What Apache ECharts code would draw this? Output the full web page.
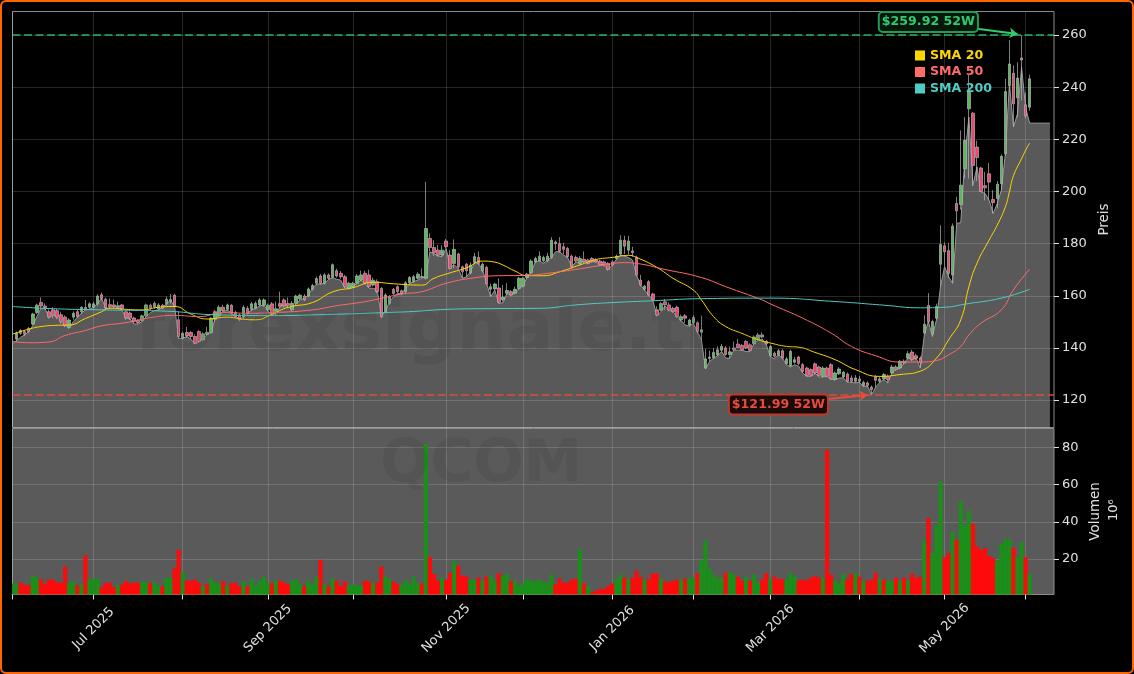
<!DOCTYPE html>
<html>
<head>
<meta charset="utf-8">
<title>QCOM</title>
<script src="https://cdn.jsdelivr.net/npm/echarts@6/dist/echarts.min.js"></script>
<style>
html, body { margin: 0; padding: 0; background: #000; }
#chart { width: 1134px; height: 674px; }
</style>
</head>
<body>
<div id="chart"></div>
<script>
// tagesdaten
var candleOpen = [
null,143.4,146.7,146.3,147.5,149.2,153.6,157.4,156.1,153.9,
154.6,154.3,152.7,151.8,147.9,151.8,153.9,153.9,155.5,155.6,
155.6,156.9,160.4,158.7,156.6,156.5,155.5,156.5,153.9,153.4,
151.5,150.7,150.5,152.3,156.4,155.6,155,156.4,156.9,157.9,
160.2,150.8,143.7,145.9,145.9,144.4,146.3,143.1,145.2,145.9,
151,152.3,155.6,154.8,156.4,153.6,152.7,152,155.2,154.8,
155.2,156.5,156.4,154.6,156.9,153.5,157,158.4,157,154.6,
157.1,158.9,159.9,159.9,162.5,164.8,167.6,164.8,168,167.1,
169.6,168.6,167.3,162.9,163.5,164.8,166,168.6,168,164.1,
165.4,162.8,153.9,157.1,162.4,163.5,161.9,161.6,165,165.4,
166.7,167.4,166.7,182,178.5,177.5,175.6,181,175.6,172.4,
176,171.1,172.1,168.8,172.8,174.7,169.6,170.9,162.5,162.6,
163,158.5,161,161.6,161,162.8,163.7,167,168.8,173,
173.4,173.4,173.4,174.7,180.6,180,178.8,178.1,175.2,174.7,
172.4,174,173.7,174.3,173.7,173.3,173,172.4,173,174.3,
176,181.3,177.5,177.2,174.7,166,162.5,165.4,160.7,154.6,
154.5,157.7,156.5,155.2,155.6,150.7,152.3,148.8,149.7,149.7,
146,132.3,136,136.3,137.3,139.1,140,137.5,140,141.5,
141,142.5,141.2,141.6,143.2,145,142.5,137,138,137.4,
138.9,134,133.2,134.5,136.5,133.6,132.3,131.7,133.9,132.7,
129.1,132.3,133.6,127.9,130.1,128.9,130,128.5,127.2,128.1,
125.6,126.6,125,128.9,127.2,128.1,129.1,130.4,132.7,132.3,
134.9,136.1,138.4,137,136.1,145.7,156.3,145.4,151.4,172.1,
179.2,177.3,168,195.4,195,208.7,231.7,230,217,209,
202.2,206.8,196.9,197.3,203,214.5,240.6,245.3,235.9,251.2,
233.2,232.3];
var candleClose = [
null,145.7,145.6,145.3,146.3,153,156.4,156.1,155.5,151.8,
152.7,151.8,150.1,148.5,150.7,153.3,152,155.6,155,156.9,
156.9,159.9,159,155.3,155.8,155.7,156.2,155,151.6,151.4,
150.2,149.8,152.3,156.5,155.1,157.1,156.5,155.2,158.7,158.6,
156.1,144.4,145.6,144.6,144.4,141.8,142.5,145.4,146,151.4,
153.9,155.6,154.3,156.5,153.3,152,150.8,155.6,153.3,156.9,
157.1,158.4,158.4,156.4,153.3,155,156,156.1,156.3,157.1,
159.9,160.2,158.4,162.6,163.9,166.6,164.8,168,166.7,171.9,
167.6,167.3,163.5,164.8,164.8,167.6,168,164.8,163.5,166,
161.6,152,160.3,159.6,160.9,161.6,160.7,165,167,167.3,
168.3,167,185.8,178.5,176.5,175.5,177.5,178.8,170.5,177.8,
171.1,169.2,169.6,171.8,175,172.4,172.1,164.5,163.5,164.5,
157.5,159.5,162,160.3,162.5,166.7,166.7,168.3,173.3,174.3,
175.2,174.7,175.2,181.3,180,177.1,177.8,175,171.1,173.4,
174.3,173,172.4,173,173,171.8,171.8,170.1,171.8,175.2,
181.3,179,181,176.5,167.9,164.1,163.7,160.3,158.6,152.6,
157,156.5,154.5,153.9,152,152,151.4,150.7,151.7,146.3,
147,135.8,136.5,138.3,139.3,140.6,137.5,138.5,139.3,140,
139.3,140,139.1,144.2,145,144.2,141.6,140.6,136.8,138.9,
136.1,135.8,138.7,135.5,134,131,129.4,129.4,130.4,129.4,
132.3,129.1,128.2,130.4,131.9,130.7,127.2,127.2,128.5,127.2,
126.8,125.6,124,127.6,128.1,129.8,127.9,132.7,131.7,134.9,
134.2,137.8,135.5,136.1,134.2,149.1,150.1,150.1,155.9,179.7,
176.9,168.6,186.7,192.6,202.4,219.6,238,210,213,200,
201.4,203.6,195.7,202.8,213.5,238.3,248.9,233.6,243.5,250.4,
228.9,243.2];
var candleLow = [
null,142.5,145,144.5,145.6,148.8,153,155.2,154.8,151.2,
151.4,151,149.2,148,147.2,150.8,151.5,153,154.5,155,
155.2,156.2,158.4,154.8,155.2,155.2,155.2,154.6,150.8,150.8,
149.4,149.2,150,151.8,154.5,155,154.6,154.8,156.2,157,
155.7,143.7,143.2,143.9,143.5,141.4,142,142.8,144.8,145.6,
150,151.8,153.8,154.2,152.8,151.5,150.3,151.2,152.8,154.2,
154.8,156,155.8,154,152.7,152.7,155.2,155.5,155.6,154,
156.5,158.3,158,159.4,162,164.3,164.3,164.3,166.2,166.6,
167,166.5,163,162.4,163,164.3,165.6,164.2,163,163.6,
161,151.5,153.2,156.5,160.3,161,160.2,161,164.5,165,
166.2,166.7,166.2,177,175.2,175,175,178.2,170,170.5,
170.5,166.8,167.2,168.2,172.2,171.8,169,164,159.6,162,
157,157.8,160.3,159.8,160.5,162.3,163.2,166.4,168.3,172.5,
173,172.8,172.9,174.2,177.5,176.5,176,174.5,170.5,172.8,
171.9,172.5,172,172.6,172.6,171.4,171.3,169.6,171.3,173.8,
175.5,176,175.8,175,167.4,163.6,162,159.8,158,152,
154,154.5,154,153.4,151.6,150.2,149.6,148.2,149.2,145.6,
143.1,131.9,134.8,135.8,136.8,138.5,137,136.2,139,139.9,
139,139.5,138.8,141,142.8,143.8,141.2,136.5,136.3,136.8,
135.7,133.5,132.7,134,133.4,130.4,129,129,129.8,129,
128.7,128.8,127.8,127.5,129.6,128.3,126.8,126.8,126.6,126.6,
125,125,122,125,126.6,127.6,126.6,130,131.2,131.8,
133.6,135.6,135,135.5,132.5,145,149.5,144.4,150.9,163.5,
171.2,166.8,164.8,187.8,193,205,205,202,204,199.8,
196.6,196.6,191.5,193.5,200.5,213.8,238,224.7,228.5,234.9,
228,231];
var candleHigh = [
null,146.3,147.2,146.8,148,153.5,157,159.4,157.1,154.8,
155.6,155,153.9,152.5,151.4,154,154.6,156,158.4,157.5,
157.8,160.6,161.2,159.3,159,158.6,157.8,156.9,154.3,154,
152,151,152.8,157,157,157.8,157.2,156.9,159.7,160.7,
160.8,154,146.2,148,146.5,145.2,146.8,146,148.2,151.8,
154.6,156.4,156.6,157,156.8,154.3,153.3,156.3,156,157.6,
157.9,159.2,159,157,157.6,157.8,161.6,159,159.4,158,
160.4,160.8,160.6,163.2,164.6,167.4,168.4,168.7,168.6,172.4,
170.4,169.5,168,165.4,165.4,168.4,169.7,169.6,170,167,
166.3,163.4,161,160.3,163,164,162.4,165.6,167.6,168,
169,170.5,203.6,184,181.3,179.5,179.4,181.8,177.5,181.6,
176.5,171.6,172.6,172.8,176.4,177,172.8,171.5,164.7,165,
166.7,164.1,164.8,162.2,163.5,167.2,167.3,168.8,174,175,
177,175.4,176.5,182.5,181.2,182.5,180.3,178.7,175.8,175.4,
175.2,177,174.2,174.8,174.4,173.8,173.5,172.9,173.6,175.8,
183.2,183,183,178.8,175.4,168,164.2,166,161.2,156,
157.6,158.8,157.5,155.8,156.2,152.8,153,151.2,152.6,150.2,
152.4,139.6,139,140,140.6,141.5,140.8,140.6,142.5,143.4,
141.5,143,141.8,144.8,145.8,146,143,141.2,138.6,139.6,
139.5,136.5,139.3,136.6,137,134.2,132.8,132.2,134.4,133.2,
133,132.8,134.2,131,132.6,131.2,130.6,129.5,129.6,129.2,
127.5,127.2,125.6,129.6,129,130.4,129.8,133.5,133.4,135.4,
135.6,138.8,139.3,137.8,136.8,152.5,161,150.8,157,187,
180.5,180.3,187.7,198,223.4,228.5,245,230.5,219.5,209.5,
207.5,210.9,200.5,204,214.2,243.2,258,248.3,249.5,259.92,
238,244.8];

// silhouette der grauen flaeche, laeuft mit dem letzten wert bis index 256 weiter
var areaLine = [
141.6,142.8,144.1,145,146.3,148.5,152,155.2,155.2,151.8,
152.7,152,150.1,148.8,147.6,150.1,151.8,153.3,154.6,154.8,
155.6,157.1,159,155.2,155.2,155.2,155.2,154.6,151.4,151.1,
149.2,149.2,150.1,152,153.6,154.3,154.6,155.6,156.9,158.4,
155.9,143.7,143.7,144.4,143.4,141.6,142.5,143.7,145,145.9,
151.4,152.7,153.9,154.6,153.3,152.3,151,152,153.3,154.6,
155.2,156.1,156.5,154.3,152.7,153.3,155.6,156.9,155.6,155.2,
157.1,158.4,159,160.3,162.9,164.5,164.5,164.8,166.3,167,
166.3,166,162.9,163.5,163.5,164.8,166,164.8,162.9,162.9,
162.2,152.3,153.9,157.7,159.6,160.9,160.9,162.8,164.7,165.4,
166,166.7,167.3,176.9,176.2,175.2,175,178.1,171.1,171.8,
170.5,166.7,167.3,169.2,172.7,172.4,169.9,164.7,159.6,162.2,
157.1,157.3,160.9,160.3,161.2,162.8,164.1,167,169.2,173,
173.4,172.4,173.7,174.7,176.9,176.9,175.6,174.7,171.1,173,
172.7,173.4,172.4,173.4,173,172,171.8,170.1,171.8,173.9,
175.6,175.2,174.7,173.7,167.9,164.1,162.2,160.3,158.4,152.3,
153.9,156.1,154.5,153.9,152,150.5,148.8,148.4,149.4,146.3,
143.1,132,134.8,136.1,137,138.6,136.1,136.1,139.2,139.2,
139.2,138.6,138.6,141.8,143.1,143.4,141.2,136.8,135.8,137.4,
136.1,133.6,132.7,133.6,133,130.4,129.1,129.1,130.4,128.9,
128.9,129.1,127.9,127.9,128.5,128.5,127,126.8,126.6,126.8,
125.3,125.3,122.1,125,126.8,127.9,126.6,130.4,131.9,132.3,
134.2,136.1,135.8,136.1,132.3,145,150.2,144.4,150.8,163.5,
171.2,167.3,164.8,187.8,188,213,228.5,202.4,209.4,199.8,
199.2,196.6,191.6,195.4,200.5,214.5,241.3,224.7,229.8,247.6,
232,226.2,226.2,226.2,226.2,226.2,226.2];

// volumen in millionen, volUp: 1 gruen, 0 rot
var volumes = [
7,7,7.3,6,6.2,11,10,9.3,6.5,9,
9,7.3,7.3,16,7.5,8,6,6.5,22,9,
9.5,9.5,5,7.3,7.3,5,6.2,6.2,8.2,7,
7.3,7.3,7.7,7.7,7.3,7.7,6,5.5,10,10,
15,25,13,8.4,8.4,9,7.3,5.5,6.6,9.5,
7.3,7,8,5.6,7,7.3,5.5,7.7,5.5,9.5,
5.7,8.4,10.5,7.3,7,8.4,8.4,7.3,6.5,8.4,
9,6.5,5.7,8.4,6.6,10.5,19.6,6.6,5.7,9.5,
8.4,5.5,8,6,6,6,5.7,8.4,8,7.3,
7.3,16,10.5,9.3,8,6.6,6.2,8.4,6.6,10.5,
7,7,81.6,21,12,8.4,10,9,12.7,19,
16.4,11,10.7,9,9,10,8.4,10.5,11.4,8.4,
12.5,11,12.3,8,8.4,5.7,7,9.3,8.4,8,
9,7.5,7.5,11.6,6.6,9.5,7.3,7.3,9,9.5,
25.4,7,5.5,1.9,3,4,4,5.6,7,9.3,
11.6,10,9.3,10,13.7,10.5,9,9.3,12.3,12.3,
9.3,8,7.5,8.4,9,9,9.5,10,10,12.3,
19.5,30,15,11.6,10,10,12.7,13,11.6,10.5,
8.4,10.5,8.4,11.6,7.5,9,12.5,9.3,10.5,9.3,
9.3,9.3,12.5,10.7,8.4,9,8.4,10,11,10,
10,78.6,11.6,8.4,7,12,9.3,12,12.5,10.5,
8.4,8.4,9,12.5,9.3,9,8.4,8,10,8.4,
10,8.4,12,10,10.5,30,42,23.4,38,61.4,
21,23.4,34.6,30.4,51,38,46,39,26.8,24.8,
26,21.6,20.4,19,28,30.7,30.7,26,21,29,
21,12];
var volUp = [
1,1,0,0,0,1,1,0,0,0,
0,0,0,0,1,1,0,1,0,1,
1,1,0,0,0,0,1,0,0,0,
0,0,1,1,0,1,1,0,1,1,
0,0,1,0,0,0,0,1,0,1,
1,1,0,1,0,0,0,1,0,1,
1,1,1,1,0,1,0,0,0,1,
1,1,0,1,1,1,0,1,0,1,
0,0,0,1,1,1,1,0,0,1,
0,0,1,1,0,0,1,1,1,1,
1,0,1,0,0,0,1,0,0,1,
0,0,0,1,1,0,1,0,1,1,
0,1,1,0,1,1,1,1,1,1,
1,1,1,1,0,0,0,0,0,0,
1,0,1,0,0,0,0,0,0,1,
1,0,1,0,0,0,1,0,0,0,
1,0,0,0,0,1,0,1,1,0,
1,1,1,1,1,1,0,1,1,0,
0,1,0,1,1,0,0,1,0,0,
0,1,1,1,0,0,0,0,0,0,
1,0,0,1,1,1,0,0,1,0,
1,0,0,0,1,0,1,1,0,1,
0,1,0,0,0,1,0,1,1,1,
0,0,1,0,1,1,1,0,0,0,
0,0,0,1,1,1,1,0,1,1,
0,1];

var sma20Points = [[0,145.3],[4,147.2],[7,148.2],[11,148.7],[14,148.8],[18,151.3],[22,153.9],[24,155.3],[28,154.8],[32,154.6],[36,155.6],[40,155.9],[44,153],[48,151.1],[53,151.8],[57,151],[60,150.8],[64,152.9],[68,155.6],[74,157.4],[79,161.5],[84,163.1],[89,165.2],[94,164.6],[101,164.1],[104,166.7],[108,168.8],[112,170.7],[116,173.3],[119,172.9],[121,171.8],[124,169.5],[127,167.7],[131,167.7],[135,169.2],[140,171.8],[144,173.9],[148,174.7],[152,175.5],[154,174.7],[159,170.9],[163,166.7],[168,162.2],[170,158.4],[173,152],[176,148.2],[180,145.6],[184,143.1],[187,141.9],[191,140.6],[194,140.3],[198,138.3],[203,135.5],[208,131.7],[214,129.1],[219,129.8],[224,131.1],[228,136.1],[231,143.1],[234,150.8],[236,163.5],[238,172.5],[241,181.4],[243,187.1],[245,194.1],[246,199.9],[247,206],[249,212.6],[250,215.8],[251,218.6]];
var sma50Points = [[0,142.5],[4,142],[9,142.3],[13,144.8],[18,146.7],[22,148.5],[28,149.7],[34,151.6],[40,152.5],[46,152],[52,153.6],[58,153.3],[65,153.6],[74,154.6],[80,156.2],[86,157.5],[91,159],[96,160.7],[101,161.6],[107,164.8],[114,166.9],[120,167.7],[126,167.8],[132,168.6],[139,170.1],[146,171.8],[151,172.7],[154,172.4],[161,170.1],[170,167],[176,163.5],[185,158.4],[187,156.9],[195,151.4],[202,145.7],[207,140.6],[213,137],[219,134.6],[224,134.6],[228,135.2],[231,137.4],[234,140.6],[236,145],[239,149.5],[244,154.6],[247,162.3],[251,170.2]];
var sma200Points = [[0,155.9],[9,155.1],[22,154.6],[38,154.1],[50,152.7],[63,152.4],[79,152.9],[91,153.5],[99,154],[107,154.8],[119,155.1],[130,155.2],[139,156.5],[148,157.4],[158,158.1],[170,158.9],[187,159.1],[203,157.8],[215,156.4],[224,155.4],[230,155.6],[235,156.8],[244,159.1],[251,162.5]];

var priceTicks = [120, 140, 160, 180, 200, 220, 240, 260];
var volumeTicks = [20, 40, 60, 80];
var monthTickIdx = [0, 20, 42, 63, 84, 107, 126, 148, 168, 187, 209, 230, 250];
var monthLabels = {20: 'Jul 2025', 63: 'Sep 2025', 107: 'Nov 2025', 148: 'Jan 2026', 187: 'Mar 2026', 230: 'May 2026'};
var high52 = 259.92;
var low52 = 121.99;

var dayNames = [];
for (var d = 0; d < 258; d++) { dayNames.push('t' + d); }

var candleData = candleOpen.map(function (o, i) {
    if (o === null) { return '-'; }
    return [o, candleClose[i], candleLow[i], candleHigh[i]];
});
var volData = volumes.map(function (v, i) {
    return { value: v, itemStyle: { color: volUp[i] ? '#1a8f1a' : '#ff0a0a' } };
});

var font = '"DejaVu Sans", sans-serif';
var gridColor = 'rgba(255,255,255,0.15)';
var isMonthTick = function (idx) { return monthTickIdx.indexOf(idx) >= 0; };

var myChart = echarts.init(document.getElementById('chart'));

var option = {
    backgroundColor: '#000',
    animation: false,
    textStyle: { fontFamily: font },
    grid: [
        { left: 12.5, right: 80, top: 11.5, height: 416, show: true, borderColor: '#8c8c8c', borderWidth: 1, backgroundColor: 'transparent' },
        { left: 12.5, right: 80, top: 428.5, height: 166, show: true, borderColor: '#8c8c8c', borderWidth: 1, backgroundColor: '#5a5a5a' }
    ],
    legend: {
        left: 910,
        top: 44,
        orient: 'vertical',
        itemWidth: 10,
        itemHeight: 10,
        itemGap: 3.5,
        icon: 'rect',
        data: [
            { name: 'SMA 20', textStyle: { color: '#ffd700' } },
            { name: 'SMA 50', textStyle: { color: '#ff6b6b' } },
            { name: 'SMA 200', textStyle: { color: '#4ecdc4' } }
        ],
        textStyle: { fontFamily: font, fontSize: 12.6, fontWeight: 'bold' }
    },
    xAxis: [
        {
            type: 'category', gridIndex: 0, data: dayNames, boundaryGap: false,
            axisLine: { show: false }, axisTick: { show: false }, axisLabel: { show: false },
            splitLine: { show: true, interval: isMonthTick, lineStyle: { color: gridColor, width: 1 } }
        },
        {
            type: 'category', gridIndex: 1, data: dayNames, boundaryGap: false,
            axisLine: { show: false },
            axisTick: { show: true, interval: isMonthTick, length: 5, lineStyle: { color: '#e0e0e0' } },
            axisLabel: {
                show: true, rotate: 45, align: 'center', verticalAlign: 'middle', margin: 34,
                color: '#e0e0e0', fontSize: 13, fontFamily: font, hideOverlap: false,
                interval: function (idx) { return monthLabels[idx] !== undefined; },
                formatter: function (v, idx) { return monthLabels[idx] || ''; }
            },
            splitLine: { show: true, interval: isMonthTick, lineStyle: { color: gridColor, width: 1 } }
        }
    ],
    yAxis: [
        {
            type: 'value', gridIndex: 0, position: 'right', min: 109.5, max: 269, scale: true,
            name: 'Preis', nameLocation: 'middle', nameRotate: 90, nameGap: 43,
            nameTextStyle: { color: '#e0e0e0', fontSize: 13.4, fontFamily: font },
            axisLine: { show: false },
            axisTick: { show: true, customValues: priceTicks, length: 5, lineStyle: { color: '#e0e0e0' } },
            axisLabel: { show: true, customValues: priceTicks, color: '#e0e0e0', fontSize: 13, fontFamily: font, margin: 8 },
            splitLine: { show: true, customValues: priceTicks, lineStyle: { color: gridColor, width: 1 } }
        },
        {
            type: 'value', gridIndex: 1, position: 'right', min: 1, max: 90,
            name: 'Volumen', nameLocation: 'middle', nameRotate: 90, nameGap: 32,
            nameTextStyle: { color: '#e0e0e0', fontSize: 13.4, fontFamily: font },
            axisLine: { show: false },
            axisTick: { show: true, customValues: volumeTicks, length: 5, lineStyle: { color: '#e0e0e0' } },
            axisLabel: { show: true, customValues: volumeTicks, color: '#e0e0e0', fontSize: 13, fontFamily: font, margin: 8 },
            splitLine: { show: true, customValues: volumeTicks, lineStyle: { color: gridColor, width: 1 } }
        }
    ],
    series: [
        {
            name: 'Flaeche', type: 'line', xAxisIndex: 0, yAxisIndex: 0, data: areaLine, z: 1,
            symbol: 'none', silent: true,
            lineStyle: { color: '#9a9a9a', width: 1 },
            areaStyle: { color: '#ffffff', opacity: 0.35, origin: 'start' },
            markLine: {
                silent: true, symbol: ['none', 'none'], label: { show: false }, animation: false,
                data: [
                    { yAxis: high52, lineStyle: { color: '#2ecc71', type: [8, 3.5], width: 1.8, opacity: 0.65 } },
                    { yAxis: low52, lineStyle: { color: '#e74c3c', type: [8, 3.5], width: 1.8, opacity: 0.7 } },
                    [
                        { coord: [238, 262.4], symbol: 'none', lineStyle: { color: '#2ecc71', type: 'solid', width: 2 } },
                        { coord: [248, 260.4], symbol: 'arrow', symbolSize: 8 }
                    ],
                    [
                        { coord: [200, 120.2], symbol: 'none', lineStyle: { color: '#e74c3c', type: 'solid', width: 2 } },
                        { coord: [211, 122], symbol: 'arrow', symbolSize: 8 }
                    ]
                ]
            },
            markPoint: {
                silent: true, symbol: 'rect', symbolSize: 0, animation: false,
                data: [
                    {
                        coord: [225.5, 265],
                        label: {
                            show: true, position: 'inside', formatter: '$' + high52 + ' 52W',
                            color: '#2ecc71', fontFamily: font, fontSize: 12.6, fontWeight: 'bold',
                            backgroundColor: '#08170e', borderColor: '#1f9d55', borderWidth: 2, borderRadius: 3, padding: [3, 2, 2, 2]
                        }
                    },
                    {
                        coord: [188.5, 118.3],
                        label: {
                            show: true, position: 'inside', formatter: '$' + low52 + ' 52W',
                            color: '#e74c3c', fontFamily: font, fontSize: 12.6, fontWeight: 'bold',
                            backgroundColor: '#1a0a0a', borderColor: '#c0392b', borderWidth: 2, borderRadius: 3, padding: [3, 2, 2, 2]
                        }
                    }
                ]
            }
        },
        {
            name: 'Kerzen', type: 'candlestick', xAxisIndex: 0, yAxisIndex: 0, data: candleData, z: 3,
            barWidth: 3, silent: true,
            itemStyle: { color: '#5cb85c', color0: '#f0476f', borderColor: '#b4b4b4', borderColor0: '#b4b4b4', borderWidth: 0.7 }
        },
        { name: 'SMA 20', type: 'line', xAxisIndex: 0, yAxisIndex: 0, data: sma20Points, z: 4, symbol: 'none', smooth: 0.5, color: '#ffd700', lineStyle: { width: 1 } },
        { name: 'SMA 50', type: 'line', xAxisIndex: 0, yAxisIndex: 0, data: sma50Points, z: 4, symbol: 'none', smooth: 0.5, color: '#ff6b6b', lineStyle: { width: 1 } },
        { name: 'SMA 200', type: 'line', xAxisIndex: 0, yAxisIndex: 0, data: sma200Points, z: 4, symbol: 'none', smooth: 0.5, color: '#4ecdc4', lineStyle: { width: 1 } },
        { name: 'Volumen', type: 'bar', xAxisIndex: 1, yAxisIndex: 1, data: volData, barWidth: 4.2, silent: true, clip: true, z: 3 }
    ],
    graphic: [
        { type: 'text', silent: true, z: 50, left: 135, top: 297, style: { text: 'forexsignale.trade', fill: 'rgba(0,0,0,0.065)', font: 'bold 70px "DejaVu Sans"' } },
        { type: 'text', silent: true, z: 50, left: 380, top: 436, style: { text: 'QCOM', fill: 'rgba(0,0,0,0.065)', font: 'bold 59px "DejaVu Sans"' } },
        { type: 'text', silent: true, z: 50, rotation: Math.PI / 2, x: 1107, y: 521, style: { text: '10\u2076', fill: '#e0e0e0', font: '13px "DejaVu Sans"' } },
        // erster balken steht halb links neben der achse
        { type: 'rect', silent: true, z: 40, shape: { x: 2, y: 430, width: 10, height: 164 }, style: { fill: '#000' } },
        { type: 'rect', silent: true, z: 60, shape: { x: 1, y: 1, width: 1132, height: 672, r: 5 }, style: { fill: 'none', stroke: '#ff6600', lineWidth: 2 } }
    ]
};

myChart.setOption(option);
</script>
</body>
</html>
